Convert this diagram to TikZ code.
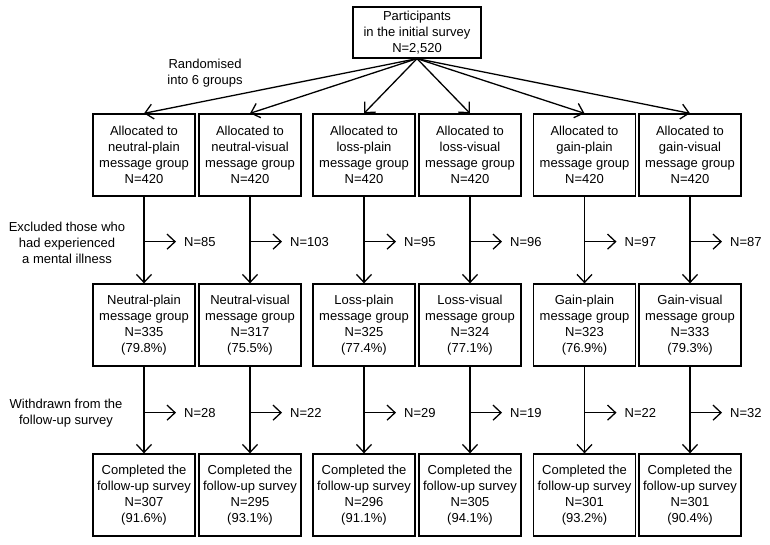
\documentclass[tikz,border=0pt]{standalone}
\usepackage{fontspec}
\setmainfont{Liberation Sans}
\usetikzlibrary{arrows.meta,calc}
\begin{document}
\begin{tikzpicture}[x=1pt,y=-1pt,
  font=\fontsize{13}{16}\selectfont,
  box/.style={draw,line width=1.3pt,minimum width=102pt,minimum height=82pt,align=center,inner sep=1pt},
  arr/.style={line width=1.3pt,-{Straight Barb[length=8pt,width=15pt,line width=1.3pt]}},
  lbl/.style={align=center,inner sep=0pt},
  nlab/.style={anchor=west,inner sep=0pt}]
\useasboundingbox (0,0) rectangle (770,544);
\node[box,minimum width=128pt,minimum height=51pt] (top) at (417,32.5) {Participants\\in the initial survey\\N=2,520};
% row 1
\node[box] (a1) at (144,155) {Allocated to\\neutral-plain\\message group\\N=420};
\node[box] (a2) at (250,155) {Allocated to\\neutral-visual\\message group\\N=420};
\node[box] (a3) at (364,155) {Allocated to\\loss-plain\\message group\\N=420};
\node[box] (a4) at (470,155) {Allocated to\\loss-visual\\message group\\N=420};
\node[box] (a5) at (584.5,155) {Allocated to\\gain-plain\\message group\\N=420};
\node[box] (a6) at (690,155) {Allocated to\\gain-visual\\message group\\N=420};
% row 2
\node[box] (b1) at (144,325) {Neutral-plain\\message group\\N=335\\(79.8\%)};
\node[box] (b2) at (250,325) {Neutral-visual\\message group\\N=317\\(75.5\%)};
\node[box] (b3) at (364,325) {Loss-plain\\message group\\N=325\\(77.4\%)};
\node[box] (b4) at (470,325) {Loss-visual\\message group\\N=324\\(77.1\%)};
\node[box] (b5) at (584.5,325) {Gain-plain\\message group\\N=323\\(76.9\%)};
\node[box] (b6) at (690,325) {Gain-visual\\message group\\N=333\\(79.3\%)};
% row 3
\node[box] (c1) at (144,495) {Completed the\\follow-up survey\\N=307\\(91.6\%)};
\node[box] (c2) at (250,495) {Completed the\\follow-up survey\\N=295\\(93.1\%)};
\node[box] (c3) at (364,495) {Completed the\\follow-up survey\\N=296\\(91.1\%)};
\node[box] (c4) at (470,495) {Completed the\\follow-up survey\\N=305\\(94.1\%)};
\node[box] (c5) at (584.5,495) {Completed the\\follow-up survey\\N=301\\(93.2\%)};
\node[box] (c6) at (690,495) {Completed the\\follow-up survey\\N=301\\(90.4\%)};
% labels
\node[lbl] (rand) at (205,73) {Randomised\\into 6 groups};
\node[lbl] (excl) at (67,243) {Excluded those who\\had experienced\\a mental illness};
\node[lbl] (with) at (66,413) {Withdrawn from the\\follow-up survey};
% fan
\foreach \i in {1,...,6} {\draw[arr] (top.south) -- (a\i.north);}
% verticals and side arrows
\foreach \i/\exn/\wdn in {1/85/28,2/103/22,3/95/29,4/96/19,5/97/22,6/87/32} {
  \draw[arr] (a\i.south) -- (b\i.north);
  \draw[arr] (b\i.south) -- (c\i.north);
  \coordinate (p\i) at ($(a\i.south)+(0,45)$);
  \coordinate (q\i) at ($(p\i)+(32,0)$);
  \draw[arr] (p\i) -- (q\i);
  \node[nlab] (ne\i) at ($(q\i)+(8,0)$) {N=\exn};
  \coordinate (r\i) at ($(b\i.south)+(0,46)$);
  \coordinate (s\i) at ($(r\i)+(32,0)$);
  \draw[arr] (r\i) -- (s\i);
  \node[nlab] (nw\i) at ($(s\i)+(8,0)$) {N=\wdn};
}
\end{tikzpicture}
\end{document}
